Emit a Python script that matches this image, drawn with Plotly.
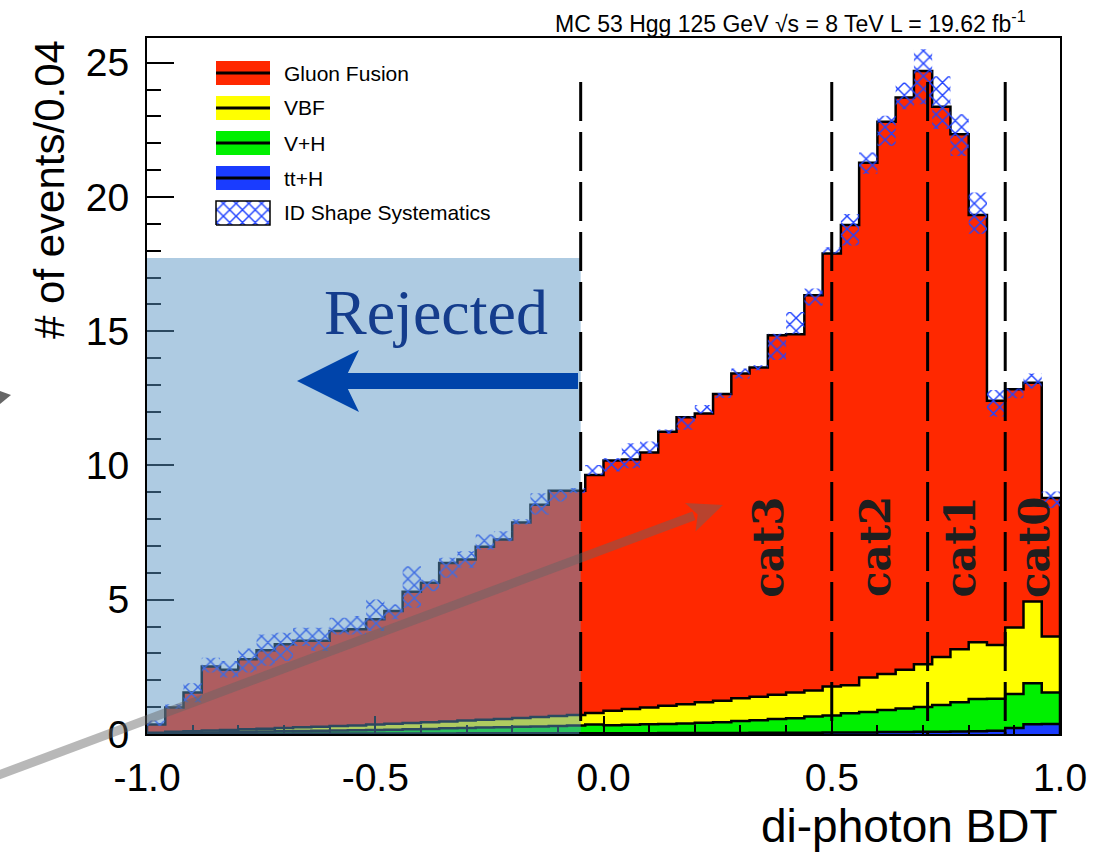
import numpy as np
import plotly.graph_objects as go

# ---- binning of the di-photon BDT output ----
BDT_MIN, BDT_MAX, BIN_W = -1.0, 1.0, 0.04
bin_edges = np.round(np.arange(BDT_MIN, BDT_MAX + BIN_W / 2, BIN_W), 2)

# ---- expected signal yields per bin (events / 0.04) ----
ggh = [0.30, 0.91, 1.45, 2.38, 2.24, 2.60, 2.92, 3.12, 3.22, 3.20,
       3.54, 3.58, 3.92, 4.20, 4.89, 5.19, 5.90, 6.00, 6.44, 6.68,
       7.28, 7.91, 8.39, 8.35, 8.87, 9.32, 9.29, 9.49, 10.21, 10.69,
       10.76, 11.42, 12.10, 12.26, 13.39, 13.34, 14.72, 16.12, 17.14, 19.17,
       20.57, 21.31, 22.09, 20.49, 19.18, 15.91, 9.10, 8.87, 8.15, 5.16]
vbf = [0.02, 0.04, 0.05, 0.07, 0.08, 0.10, 0.11, 0.12, 0.14, 0.15,
       0.17, 0.18, 0.20, 0.22, 0.23, 0.25, 0.26, 0.28, 0.29, 0.31,
       0.33, 0.35, 0.37, 0.39, 0.43, 0.54, 0.59, 0.63, 0.68, 0.72,
       0.76, 0.80, 0.85, 0.88, 0.90, 0.96, 0.97, 1.08, 1.05, 1.28,
       1.34, 1.44, 1.59, 1.79, 1.98, 2.12, 2.00, 2.48, 3.04, 2.08]
vh = [0.02, 0.03, 0.04, 0.05, 0.06, 0.07, 0.08, 0.09, 0.09, 0.10,
      0.11, 0.12, 0.13, 0.14, 0.16, 0.17, 0.19, 0.19, 0.21, 0.22,
      0.24, 0.25, 0.27, 0.29, 0.32, 0.30, 0.31, 0.33, 0.33, 0.35,
      0.38, 0.40, 0.44, 0.46, 0.51, 0.54, 0.60, 0.63, 0.71, 0.76,
      0.82, 0.88, 0.93, 1.00, 1.09, 1.20, 1.19, 1.27, 1.53, 1.18]
tth = [0.01, 0.01, 0.01, 0.01, 0.01, 0.01, 0.01, 0.01, 0.02, 0.02,
       0.02, 0.02, 0.02, 0.02, 0.02, 0.02, 0.02, 0.03, 0.03, 0.03,
       0.03, 0.03, 0.03, 0.03, 0.03, 0.03, 0.03, 0.03, 0.04, 0.04,
       0.04, 0.04, 0.04, 0.05, 0.05, 0.05, 0.05, 0.06, 0.06, 0.06,
       0.07, 0.07, 0.08, 0.08, 0.09, 0.10, 0.12, 0.22, 0.36, 0.37]

# ---- photon-ID shape systematics band (lower / upper edge per bin) ----
sys_lo = [0.31, 0.93, 1.18, 2.29, 2.10, 2.29, 2.54, 2.72, 3.28, 3.09,
          3.71, 3.71, 3.84, 4.27, 4.70, 5.32, 5.82, 6.19, 6.87, 7.18,
          7.80, 8.17, 8.66, 8.97, 9.65, 9.78, 9.90, 10.46, 11.18, 11.33,
          11.94, 12.51, 13.24, 13.55, 13.93, 14.91, 15.96, 17.89, 18.19, 20.86,
          21.91, 23.27, 23.45, 22.53, 21.53, 18.63, 11.82, 12.50, 12.87, 8.42]
sys_hi = [0.50, 1.11, 1.89, 2.84, 2.72, 3.18, 3.71, 3.77, 3.96, 3.96,
          4.33, 4.39, 5.01, 4.83, 6.25, 5.75, 6.56, 6.81, 7.43, 7.55,
          8.00, 8.97, 9.10, 9.16, 10.02, 10.27, 10.83, 10.89, 11.34, 11.82,
          12.25, 12.70, 13.61, 13.73, 14.91, 15.72, 16.59, 18.13, 19.37, 21.66,
          23.02, 24.26, 25.50, 24.50, 23.08, 20.17, 12.81, 12.87, 13.43, 9.03]

# ---- event categories ----
cat_bounds = [-0.05, 0.50, 0.71, 0.88]
cat_names = ["cat3", "cat2", "cat1", "cat0"]
cat_label_x = [0.36, 0.595, 0.78, 0.943]

x_tick_vals = [-1.0, -0.5, 0.0, 0.5, 1.0]
x_tick_text = ["-1.0", "-0.5", "0.0", "0.5", "1.0"]
y_tick_vals = [0, 5, 10, 15, 20, 25]
y_tick_text = ["0", "5", "10", "15", "20", "25"]

C_GGH, C_VBF, C_VH, C_TTH = "#ff2800", "#ffff00", "#00f000", "#1a3cff"
C_HATCH = "#2244ff"
SANS = "Liberation Sans, Arial, sans-serif"

W, H = 1107, 852
PL, PR, PT, PB = 147, 1060, 38, 734      # frame edges in page pixels
YMAX = 25.92


def px(xp):
    return (xp - PL) / (PR - PL)


def py(yp):
    return (PB - yp) / (PB - PT)


def dx(xp):
    return BDT_MIN + (BDT_MAX - BDT_MIN) * (xp - PL) / (PR - PL)


def dy(yp):
    return YMAX * (PB - yp) / (PB - PT)


def step_xy(vals):
    xs = [bin_edges[0]] + list(bin_edges[:-1]) + [bin_edges[-1], bin_edges[-1]]
    ys = [0.0] + list(vals) + [vals[-1], 0.0]
    return xs, ys


# stacked levels (THStack style: drawn from the top level down)
lvl_tth = np.array(tth)
lvl_vh = lvl_tth + np.array(vh)
lvl_vbf = lvl_vh + np.array(vbf)
lvl_all = lvl_vbf + np.array(ggh)

fig = go.Figure()
for level, color in [(lvl_all, C_GGH), (lvl_vbf, C_VBF), (lvl_vh, C_VH), (lvl_tth, C_TTH)]:
    xs, ys = step_xy(np.round(level, 3))
    fig.add_trace(go.Scatter(x=xs, y=ys, mode="lines", line_shape="hv",
                             line=dict(color="black", width=2.5),
                             fill="tozeroy", fillcolor=color, hoverinfo="skip"))

# systematics hatch, one box per bin
hx, hy = [], []
for i in range(len(sys_lo)):
    l, r = bin_edges[i], bin_edges[i + 1]
    hx += [l, r, r, l, l, None]
    hy += [sys_lo[i], sys_lo[i], sys_hi[i], sys_hi[i], sys_lo[i], None]
hatch = dict(shape="x", fgcolor=C_HATCH, fgopacity=1, bgcolor="rgba(0,0,0,0)",
             size=9, solidity=0.3)
fig.add_trace(go.Scatter(x=hx, y=hy, mode="lines", fill="toself",
                         fillcolor="rgba(0,0,0,0)", fillpattern=hatch,
                         line=dict(width=0), hoverinfo="skip"))

shapes = []
annotations = []

# ---- legend (drawn by hand, ROOT style) ----
legend_rows = [("Gluon Fusion", C_GGH), ("VBF", C_VBF), ("V+H", C_VH),
               ("tt+H", C_TTH), ("ID Shape Systematics", None)]
row_y = [73, 108, 143, 178, 213]
for (label, color), yc in zip(legend_rows, row_y):
    if color is not None:
        shapes.append(dict(type="rect", xref="paper", yref="paper",
                           x0=px(216), x1=px(270), y0=py(yc + 12), y1=py(yc - 12),
                           fillcolor=color, line=dict(width=0)))
        shapes.append(dict(type="line", xref="paper", yref="paper",
                           x0=px(216), x1=px(270), y0=py(yc), y1=py(yc),
                           line=dict(color="black", width=3)))
    else:
        bx = [dx(216), dx(270), dx(270), dx(216), dx(216)]
        by = [dy(yc + 12), dy(yc + 12), dy(yc - 12), dy(yc - 12), dy(yc + 12)]
        fig.add_trace(go.Scatter(x=bx, y=by, mode="lines", fill="toself",
                                 fillcolor="white", fillpattern=hatch,
                                 line=dict(color="black", width=1.5), hoverinfo="skip"))
    annotations.append(dict(text=label, xref="paper", yref="paper", x=px(282), y=py(yc),
                            xanchor="left", yanchor="middle", showarrow=False,
                            font=dict(family=SANS, size=21, color="black")))

# ---- rejected region ----
shapes.append(dict(type="rect", xref="x", yref="y", x0=BDT_MIN, x1=cat_bounds[0],
                   y0=0, y1=dy(258), fillcolor="rgba(90,148,196,0.49)",
                   line=dict(width=0), layer="above"))

# category boundaries
for cb in cat_bounds:
    shapes.append(dict(type="line", xref="x", yref="y", x0=cb, x1=cb, y0=dy(82), y1=0,
                       line=dict(color="black", width=3, dash="39px,11px"), layer="above"))

# blue "rejected" arrow
shapes.append(dict(type="path", xref="paper", yref="paper", layer="above",
                   path=(f"M {px(578)} {py(373)} L {px(344)} {py(373)} "
                         f"L {px(344)} {py(389)} L {px(578)} {py(389)} Z"),
                   fillcolor="#0044aa", line=dict(width=0)))
shapes.append(dict(type="path", xref="paper", yref="paper", layer="above",
                   path=(f"M {px(297)} {py(381)} L {px(359)} {py(350)} "
                         f"L {px(344)} {py(381)} L {px(359)} {py(412)} Z"),
                   fillcolor="#0044aa", line=dict(width=0)))

# long grey arrow crossing the plot
shapes.append(dict(type="line", xref="paper", yref="paper", layer="above",
                   x0=px(-5), y0=py(776.4), x1=px(694), y1=py(515.7),
                   line=dict(color="rgba(100,100,100,0.46)", width=9)))
shapes.append(dict(type="path", xref="paper", yref="paper", layer="above",
                   path=(f"M {px(723)} {py(505)} L {px(685)} {py(503)} "
                         f"L {px(697.7)} {py(514.5)} L {px(695.5)} {py(531.5)} Z"),
                   fillcolor="rgba(100,100,100,0.46)", line=dict(width=0)))
shapes.append(dict(type="path", xref="paper", yref="paper", layer="above",
                   path=f"M {px(0)} {py(391)} L {px(11)} {py(395)} L {px(0)} {py(404)} Z",
                   fillcolor="#666666", line=dict(width=0)))

annotations.append(dict(text="Rejected", xref="paper", yref="paper", x=px(436), y=py(312),
                        xanchor="center", yanchor="middle", showarrow=False,
                        font=dict(family="Liberation Serif, serif", size=64, color="#143c8c")))

for name, xc in zip(cat_names, cat_label_x):
    annotations.append(dict(text=f"<b>{name}</b>", xref="x", yref="paper", x=xc, y=py(547),
                            xanchor="center", yanchor="middle", textangle=-90, showarrow=False,
                            font=dict(family="DejaVu Serif, serif", size=42, color="#1e1e1e")))

# titles
annotations.append(dict(text="MC 53 Hgg 125 GeV √s = 8 TeV L = 19.62 fb<sup>-1</sup>",
                        xref="paper", yref="paper", x=px(1028), y=py(22),
                        xanchor="right", yanchor="middle", showarrow=False,
                        font=dict(family=SANS, size=23, color="black")))
annotations.append(dict(text="di-photon BDT", xref="paper", yref="paper", x=px(1060), y=py(826),
                        xanchor="right", yanchor="middle", showarrow=False,
                        font=dict(family=SANS, size=46, color="black")))
annotations.append(dict(text="# of events/0.04", xref="paper", yref="paper", x=px(50), y=py(190),
                        xanchor="center", yanchor="middle", textangle=-90, showarrow=False,
                        font=dict(family=SANS, size=42, color="black")))

fig.update_layout(
    width=W, height=H, showlegend=False,
    margin=dict(l=PL, r=W - PR, t=PT, b=H - PB, pad=0),
    paper_bgcolor="white", plot_bgcolor="white",
    shapes=shapes, annotations=annotations,
    xaxis=dict(range=[BDT_MIN, BDT_MAX], tickvals=x_tick_vals, ticktext=x_tick_text,
               ticks="inside", ticklen=18, tickwidth=1.5, tickcolor="black",
               minor=dict(dtick=0.1, ticks="inside", ticklen=9, tickwidth=1.5,
                          tickcolor="black", showgrid=False),
               showgrid=False, zeroline=False, showline=True, linecolor="black",
               linewidth=2, mirror=True, ticklabelstandoff=8,
               tickfont=dict(family=SANS, size=39, color="black")),
    yaxis=dict(range=[0, YMAX], tickvals=y_tick_vals, ticktext=y_tick_text,
               ticks="inside", ticklen=27, tickwidth=1.5, tickcolor="black",
               minor=dict(dtick=1, ticks="inside", ticklen=14, tickwidth=1.5,
                          tickcolor="black", showgrid=False),
               showgrid=False, zeroline=False, showline=True, linecolor="black",
               linewidth=2, mirror=True, ticklabelstandoff=8,
               tickfont=dict(family=SANS, size=39, color="black")),
)

fig.write_html("out.html")
